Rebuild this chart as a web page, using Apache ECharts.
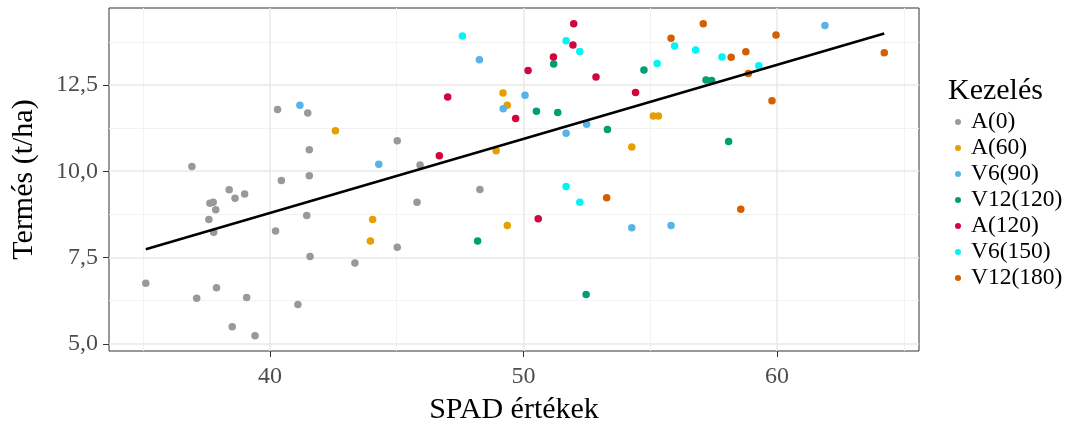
<!DOCTYPE html>
<html><head><meta charset="utf-8">
<script src="https://cdn.jsdelivr.net/npm/echarts@6/dist/echarts.min.js"></script>
<style>html,body{margin:0;padding:0;background:#fff}#c{width:1075px;height:423px}</style>
</head><body><div id="c"></div>
<script>
const groupNames = ['A(0)','A(60)','V6(90)','V12(120)','A(120)','V6(150)','V12(180)'];
const groupColors = ['#999999','#E69F00','#56B4E9','#009E73','#D1063F','#00F5F5','#D55E00'];

const spadA0 = [40.30,41.49,41.55,45.02,36.92,45.92,45.80,40.45,41.55,38.39,38.62,39.00,37.63,37.76,37.86,37.59,37.78,41.45,40.22,45.02,41.58,43.35,35.10,37.11,37.89,39.08,41.10,38.51,39.41,48.28];
const yieldA0 = [11.79,11.69,10.62,10.88,10.14,10.18,9.10,9.73,9.87,9.46,9.22,9.34,9.07,9.10,8.88,8.60,8.23,8.72,8.27,7.80,7.53,7.34,6.75,6.32,6.62,6.34,6.14,5.49,5.23,9.47];

const spadA60 = [42.58,44.05,43.96,49.19,49.36,48.92,49.36,54.27,55.12,55.32];
const yieldA60 = [11.17,8.60,7.98,12.27,11.91,10.59,8.43,10.70,11.60,11.60];

const spadV6_90 = [41.18,44.29,48.26,49.20,50.06,51.68,52.49,54.27,55.82,61.89];
const yieldV6_90 = [11.91,10.20,13.23,11.81,12.20,11.10,11.36,8.36,8.43,14.22];

const spadV12_120 = [50.51,51.35,51.19,53.31,54.75,48.19,52.47,57.20,57.42,58.09];
const yieldV12_120 = [11.74,11.70,13.11,11.21,12.93,7.98,6.43,12.64,12.63,10.86];

const spadA120 = [47.01,49.69,50.18,51.18,51.98,51.95,52.86,46.68,54.42,50.58];
const yieldA120 = [12.15,11.53,12.92,13.31,14.27,13.66,12.73,10.45,12.28,8.62];

const spadV6_150 = [47.59,51.68,52.22,55.27,51.68,52.22,55.96,56.79,57.83,59.28];
const yieldV6_150 = [13.92,13.78,13.47,13.12,9.56,9.10,13.63,13.51,13.31,13.06];

const spadV12_180 = [55.82,53.28,57.09,58.19,58.77,59.96,64.23,58.87,59.80,58.57];
const yieldV12_180 = [13.85,9.23,14.27,13.30,13.46,13.95,13.43,12.83,12.04,8.90];

const trendX = [35.10, 64.23];
const trendY = [7.74, 13.99];

const xTicks = [40, 50, 60];
const xMinor = [35, 45, 55, 65];
const yTicks = [5, 7.5, 10, 12.5];
const yMinor = [6.25, 8.75, 11.25, 13.75];

const xTitle = 'SPAD értékek';
const yTitle = 'Termés (t/ha)';
const legendTitle = 'Kezelés';

const spadAll = [spadA0, spadA60, spadV6_90, spadV12_120, spadA120, spadV6_150, spadV12_180];
const yieldAll = [yieldA0, yieldA60, yieldV6_90, yieldV12_120, yieldA120, yieldV6_150, yieldV12_180];

const FONT = '"Liberation Serif", "DejaVu Serif", serif';
const chart = echarts.init(document.getElementById('c'), null, {renderer: 'canvas'});

const series = [];
series.push({
  type: 'line', data: [], silent: true, z: 0, zlevel: 0,
  markLine: {
    silent: true, symbol: 'none', label: {show: false}, animation: false,
    data: [
      ...xMinor.map(v => ({xAxis: v, lineStyle: {color: '#f2f2f2', width: 1, type: 'solid'}})),
      ...yMinor.map(v => ({yAxis: v, lineStyle: {color: '#f2f2f2', width: 1, type: 'solid'}})),
      ...xTicks.map(v => ({xAxis: v, lineStyle: {color: '#e8e8e8', width: 1.5, type: 'solid'}})),
      ...yTicks.map(v => ({yAxis: v, lineStyle: {color: '#e8e8e8', width: 1.5, type: 'solid'}}))
    ]
  }
});
groupNames.forEach((name, i) => {
  series.push({
    name: name, type: 'scatter', symbol: 'circle', symbolSize: 7.5, z: 10,
    itemStyle: {color: groupColors[i], opacity: 1},
    data: spadAll[i].map((x, k) => [x, yieldAll[i][k]])
  });
});
series.push({
  type: 'line', data: trendX.map((x, k) => [x, trendY[k]]), symbol: 'none', z: 20,
  lineStyle: {color: '#000', width: 2.5}, silent: true
});

chart.setOption({
  animation: false,
  backgroundColor: '#fff',
  grid: {left: 109, top: 8, width: 810, height: 343, containLabel: false, outerBoundsMode: 'none',
    show: true, borderColor: '#333', borderWidth: 1, backgroundColor: 'transparent'},
  title: {text: legendTitle, left: 943, top: 71, textStyle: {fontFamily: FONT, fontSize: 30, fontWeight: 'normal', color: '#000'}},
  legend: {
    orient: 'vertical', left: 950, top: 104, itemGap: 0, itemWidth: 6, itemHeight: 6, icon: 'circle',
    data: groupNames,
    textStyle: {fontFamily: FONT, fontSize: 23.5, color: '#000', lineHeight: 26, padding: [0,0,0,5]}
  },
  xAxis: {
    type: 'value', min: 33.65, max: 65.6,
    name: xTitle, nameLocation: 'middle', nameGap: 44,
    nameTextStyle: {fontFamily: FONT, fontSize: 30, color: '#000'},
    axisLine: {show: false},
    axisTick: {show: true, customValues: xTicks, length: 6, lineStyle: {color: '#333', width: 1}},
    axisLabel: {customValues: xTicks, fontFamily: FONT, fontSize: 24, color: '#4d4d4d', margin: 14},
    splitLine: {show: false}
  },
  yAxis: {
    type: 'value', min: 4.79, max: 14.73,
    name: yTitle, nameLocation: 'middle', nameGap: 70, nameRotate: 90,
    nameTextStyle: {fontFamily: FONT, fontSize: 30, color: '#000'},
    axisLine: {show: false},
    axisTick: {show: true, customValues: yTicks, length: 6, lineStyle: {color: '#333', width: 1}},
    axisLabel: {customValues: yTicks, fontFamily: FONT, fontSize: 24, color: '#4d4d4d', margin: 11,
      formatter: v => v.toFixed(1).replace('.', ',')},
    splitLine: {show: false}
  },
  series: series
});
</script></body></html>
